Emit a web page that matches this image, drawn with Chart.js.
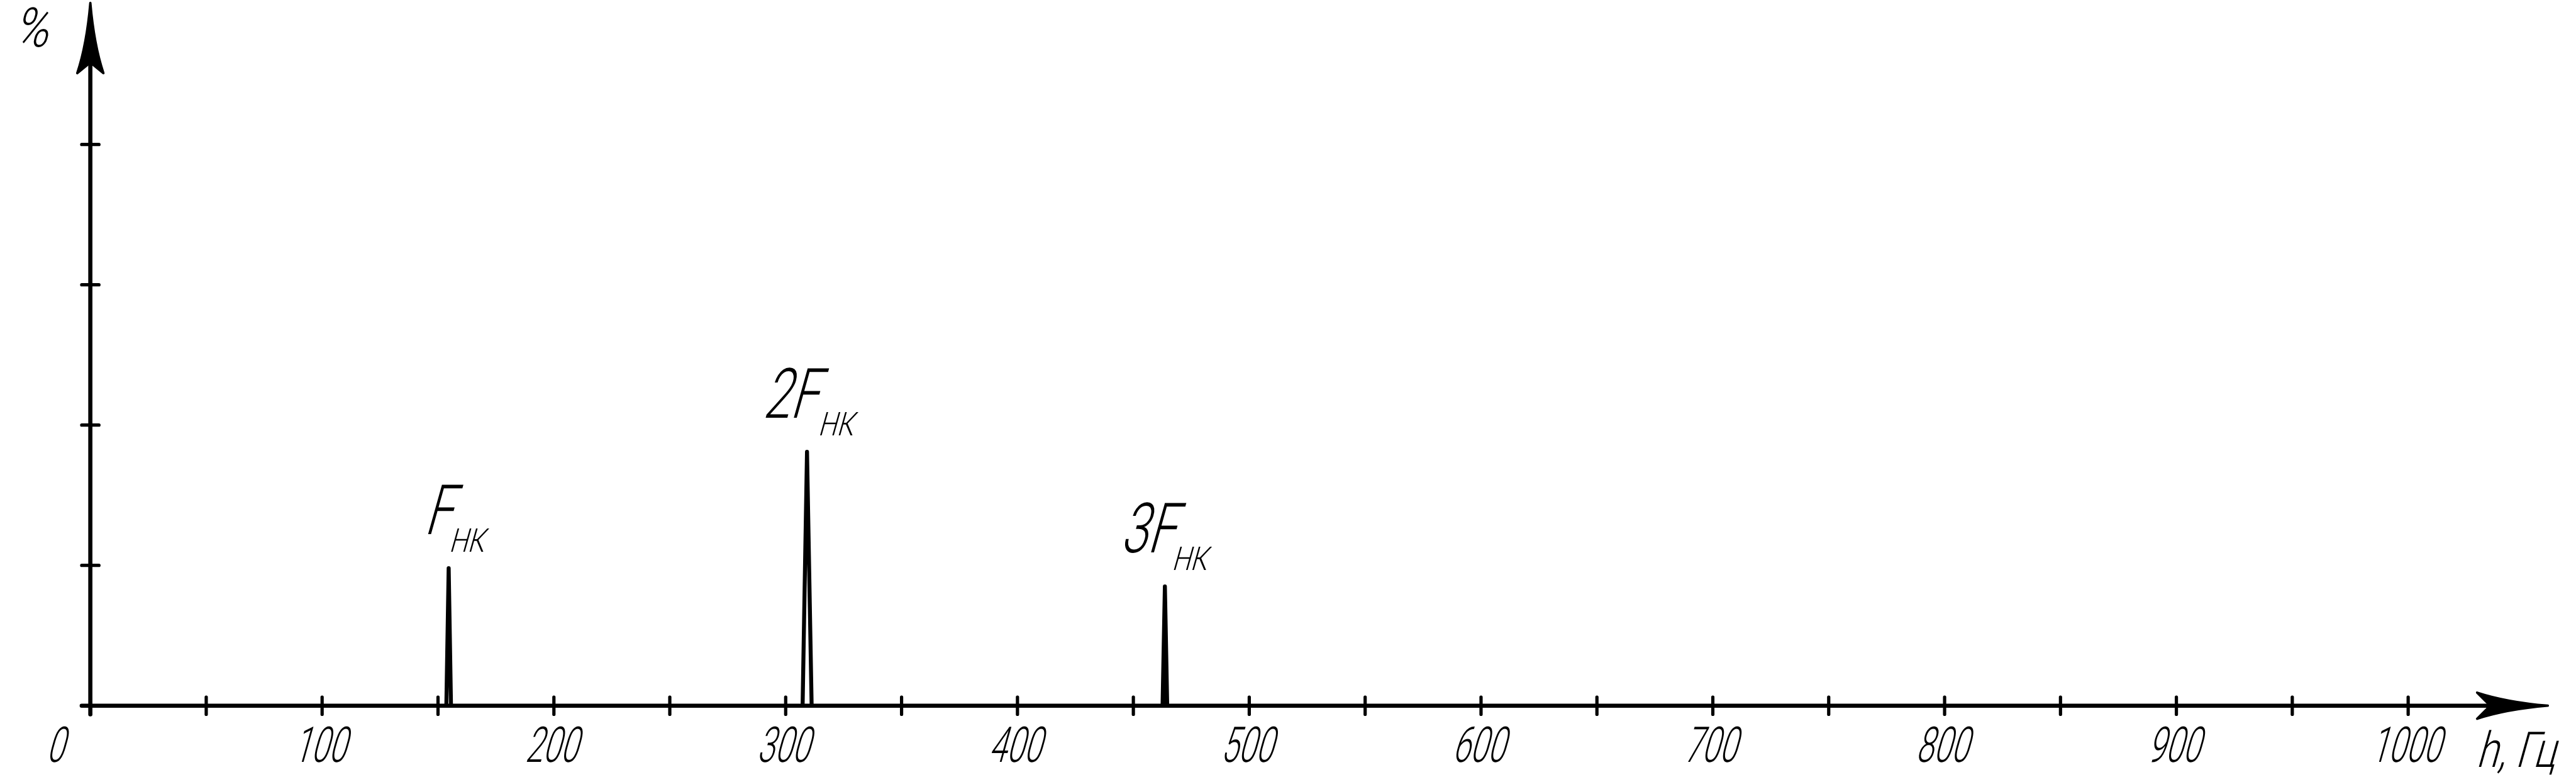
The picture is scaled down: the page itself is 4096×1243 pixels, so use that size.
<!DOCTYPE html>
<html lang="ru">
<head>
    <meta charset="UTF-8">
    <title>Спектр</title>
    <script src="https://cdn.jsdelivr.net/npm/chart.js"></script>
    <style>
        html, body { margin: 0; padding: 0; background: #fff; }
        #spectrum { display: block; }
    </style>
</head>
<body>
    <canvas id="spectrum" width="4096" height="1243"></canvas>

    <script>
        // axis ticks (Hz and %)
        const xTickValues = [0, 50, 100, 150, 200, 250, 300, 350, 400, 450, 500,
                             550, 600, 650, 700, 750, 800, 850, 900, 950, 1000];
        const xLabelValues = [0, 100, 200, 300, 400, 500, 600, 700, 800, 900, 1000];
        const xTickLabels = ['0', '100', '200', '300', '400', '500', '600', '700', '800', '900', '1000'];
        const yTickValues = [0, 1, 2, 3, 4];
        const xAxisTitle = 'h, Гц';
        const yAxisTitle = '%';

        // spectral lines: frequency (Hz) and amplitude (%)
        const peakFHz = [153.6, 154.6, 155.6];
        const peakFPct = [0, 0.98, 0];
        const peak2FHz = [307.3, 309.2, 311.2];
        const peak2FPct = [0, 1.81, 0];
        const peak3FHz = [462.6, 463.6, 464.6];
        const peak3FPct = [0, 0.85, 0];

        const peakNames = ['F', '2F', '3F'];
        const peakSub = 'НК';

        // drawing is done in reference pixels, then shrunk
        const S = 0.945;
        const FONT = 'Roboto, "DejaVu Sans", sans-serif';
        const SLANT = 0.28;

        // offsets of the peak captions from the peak top (reference px)
        const captionOffsets = [
            { main: -42, sub: 0 },
            { main: -75, sub: 18 },
            { main: -76, sub: 11 }
        ];

        function toPoints(xs, ys) {
            return xs.map((x, i) => ({ x: x, y: ys[i] }));
        }

        function slantText(ctx, text, x, y, size, xs, align) {
            ctx.save();
            ctx.translate(x, y);
            ctx.transform(1, 0, -SLANT, 1, 0, 0);
            ctx.scale(xs, 1);
            ctx.font = '300 ' + size + 'px ' + FONT;
            ctx.textAlign = align;
            ctx.textBaseline = 'alphabetic';
            ctx.fillStyle = '#000';
            ctx.fillText(text, 0, 0);
            ctx.restore();
        }

        // axes with arrows, ticks crossing the axis line, and all labels
        const axesPlugin = {
            id: 'gostAxes',
            beforeDatasetsDraw(chart) {
                const ctx = chart.ctx;
                const xs = chart.scales.x;
                const ys = chart.scales.y;
                const x0 = xs.getPixelForValue(0);
                const y0 = ys.getPixelForValue(0);
                const xEnd = xs.getPixelForValue(1000);
                const yTop = ys.getPixelForValue(5) - 2 * S;
                const half = 14.5 * S;

                ctx.save();
                ctx.strokeStyle = '#000';
                ctx.fillStyle = '#000';
                ctx.lineCap = 'round';
                ctx.lineJoin = 'round';

                // x axis line
                const xTip = xEnd + 235 * S;
                ctx.lineWidth = 7 * S;
                ctx.beginPath();
                ctx.moveTo(x0 - half, y0);
                ctx.lineTo(xTip - 100 * S, y0);
                ctx.stroke();

                // y axis line
                ctx.beginPath();
                ctx.moveTo(x0, y0 + half);
                ctx.lineTo(x0, yTop + 100 * S);
                ctx.stroke();

                // x arrow head
                ctx.lineWidth = 4 * S;
                ctx.beginPath();
                ctx.moveTo(xTip, y0);
                ctx.quadraticCurveTo(xTip - 70 * S, y0 - 6 * S, xTip - 119 * S, y0 - 22 * S);
                ctx.lineTo(xTip - 97 * S, y0);
                ctx.lineTo(xTip - 119 * S, y0 + 22 * S);
                ctx.quadraticCurveTo(xTip - 70 * S, y0 + 6 * S, xTip, y0);
                ctx.closePath();
                ctx.fill();
                ctx.stroke();

                // y arrow head
                ctx.beginPath();
                ctx.moveTo(x0, yTop);
                ctx.quadraticCurveTo(x0 + 6 * S, yTop + 70 * S, x0 + 22 * S, yTop + 118 * S);
                ctx.lineTo(x0, yTop + 100 * S);
                ctx.lineTo(x0 - 22 * S, yTop + 118 * S);
                ctx.quadraticCurveTo(x0 - 6 * S, yTop + 70 * S, x0, yTop);
                ctx.closePath();
                ctx.fill();
                ctx.stroke();

                // ticks
                ctx.lineWidth = 5.5 * S;
                xTickValues.forEach(v => {
                    const px = xs.getPixelForValue(v);
                    ctx.beginPath();
                    ctx.moveTo(px, y0 - half);
                    ctx.lineTo(px, y0 + half);
                    ctx.stroke();
                });
                yTickValues.forEach(v => {
                    const py = ys.getPixelForValue(v);
                    ctx.beginPath();
                    ctx.moveTo(x0 - half, py);
                    ctx.lineTo(x0 + half, py);
                    ctx.stroke();
                });
                ctx.restore();

                // tick labels
                const tickSize = 83 * S;
                xLabelValues.forEach((v, i) => {
                    let px = xs.getPixelForValue(v) - 5 * S;
                    if (v === 0) px = xs.getPixelForValue(v) - 60 * S;
                    slantText(ctx, xTickLabels[i], px, y0 + 95 * S, tickSize, 0.64, 'center');
                });

                // axis titles
                slantText(ctx, xAxisTitle, xEnd + 114 * S, y0 + 103 * S, tickSize, 0.8, 'left');
                slantText(ctx, yAxisTitle, 22 * S, 78 * S, 92 * S, 0.85, 'left');
            },
            afterDatasetsDraw(chart) {
                const ctx = chart.ctx;
                const xs = chart.scales.x;
                const ys = chart.scales.y;
                const tops = [
                    [peakFHz[1], peakFPct[1]],
                    [peak2FHz[1], peak2FPct[1]],
                    [peak3FHz[1], peak3FPct[1]]
                ];
                tops.forEach((t, i) => {
                    const px = xs.getPixelForValue(t[0]);
                    const py = ys.getPixelForValue(t[1]);
                    const off = captionOffsets[i];
                    slantText(ctx, peakNames[i], px + off.main * S, py - 57 * S, 117 * S, 0.7, 'left');
                    slantText(ctx, peakSub, px + off.sub * S, py - 28 * S, 55 * S, 0.8, 'left');
                });
            }
        };

        function peakSet(xs, ys, filled) {
            return {
                data: toPoints(xs, ys),
                borderColor: '#000',
                backgroundColor: '#000',
                borderWidth: 6.7 * S,
                borderCapStyle: 'round',
                borderJoinStyle: 'round',
                pointRadius: 0,
                tension: 0,
                fill: filled ? 'origin' : false,
                clip: false
            };
        }

        function build() {
            const ctx = document.getElementById('spectrum').getContext('2d');
            new Chart(ctx, {
                type: 'line',
                data: {
                    datasets: [
                        peakSet(peakFHz, peakFPct, false),
                        peakSet(peak2FHz, peak2FPct, false),
                        peakSet(peak3FHz, peak3FPct, true)
                    ]
                },
                options: {
                    responsive: false,
                    animation: false,
                    devicePixelRatio: 1,
                    layout: {
                        padding: {
                            left: 152 * S,
                            right: 4096 - 4052 * S,
                            top: 7 * S,
                            bottom: 1243 - 1187 * S
                        }
                    },
                    scales: {
                        x: { type: 'linear', min: 0, max: 1000, display: false },
                        y: { type: 'linear', min: 0, max: 5, display: false }
                    },
                    plugins: {
                        legend: { display: false },
                        tooltip: { enabled: false }
                    }
                },
                plugins: [axesPlugin]
            });
        }

        document.fonts.load('300 80px Roboto').finally(build);
    </script>
</body>
</html>
